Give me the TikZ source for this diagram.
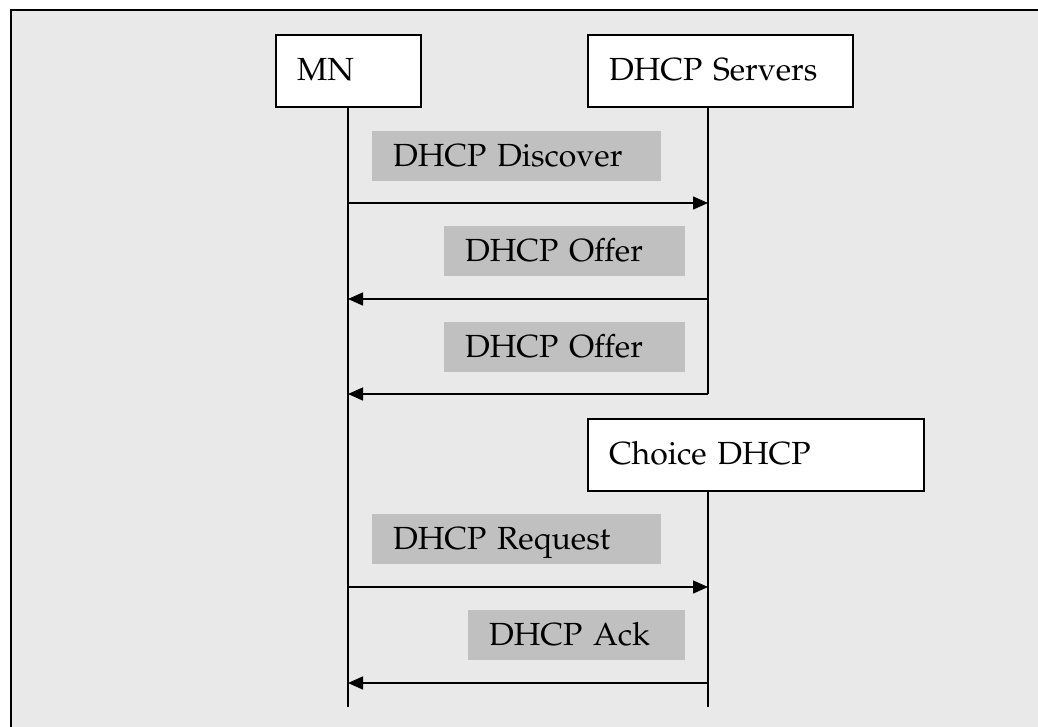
\documentclass[tikz,border=0pt]{standalone}
\usepackage[T1]{fontenc}
\usepackage{mathpazo}
\usetikzlibrary{arrows.meta}
\definecolor{panel}{HTML}{E9E9E9}
\definecolor{tag}{HTML}{C0C0C0}
\begin{document}
\begin{tikzpicture}[x=1pt,y=-1pt,
  every node/.style={font=\fontsize{32}{38}\selectfont, outer sep=0pt},
  entity/.style={draw=black, line width=2.2pt, fill=white, anchor=north west,
    inner xsep=21pt, inner ysep=0pt, text height=45pt, text depth=27pt, align=left},
  msg/.style={fill=tag, anchor=north west,
    inner xsep=21pt, inner ysep=0pt, text height=35.5pt, text depth=14.5pt, align=left},
  life/.style={line width=1.5pt},
  call/.style={line width=1.5pt, -{Triangle[length=15pt,width=13pt]}},
]
\useasboundingbox (0,0) rectangle (1038,726);
\clip (0,0) rectangle (1038,726);
\fill[white] (0,0) rectangle (1038,726);
\draw[fill=panel, line width=2pt] (11,10) rectangle (1080,770);

% participants
\node[entity, text width=103pt] (mn) at (276,35) {MN};
\node[entity, text width=223pt] (srv) at (588,35) {DHCP Servers};
\node[entity, text width=294pt] (choice) at (588,419) {Choice DHCP};

% message labels
\node[msg, text width=247pt] (ldiscover) at (372,131) {DHCP Discover};
\node[msg, text width=199pt] (loffer1) at (444,226) {DHCP Offer};
\node[msg, text width=199pt] (loffer2) at (444,322) {DHCP Offer};
\node[msg, text width=247pt] (lrequest) at (372,514) {DHCP Request};
\node[msg, text width=175pt] (lack) at (468,610) {DHCP Ack};

% lifeline points
\coordinate (mnTop) at (348,107);
\coordinate (mnEnd) at (348,707);
\coordinate (srvTop) at (708,107);
\coordinate (srvEnd) at (708,394);
\coordinate (chTop) at (708,491);
\coordinate (chEnd) at (708,707);
\coordinate (mn1) at (348,203);  \coordinate (srv1) at (708,203);
\coordinate (mn2) at (348,299);  \coordinate (srv2) at (708,299);
\coordinate (mn3) at (348,394);
\coordinate (mn4) at (348,587);  \coordinate (ch4) at (708,587);
\coordinate (mn5) at (348,683);  \coordinate (ch5) at (708,683);

% lifelines
\draw[life] (mnTop) -- (mnEnd);
\draw[life] (srvTop) -- (srvEnd);
\draw[life] (chTop) -- (chEnd);

% messages
\draw[call] (mn1) -- (srv1);
\draw[call] (srv2) -- (mn2);
\draw[call] (srvEnd) -- (mn3);
\draw[call] (mn4) -- (ch4);
\draw[call] (ch5) -- (mn5);
\end{tikzpicture}
\end{document}
